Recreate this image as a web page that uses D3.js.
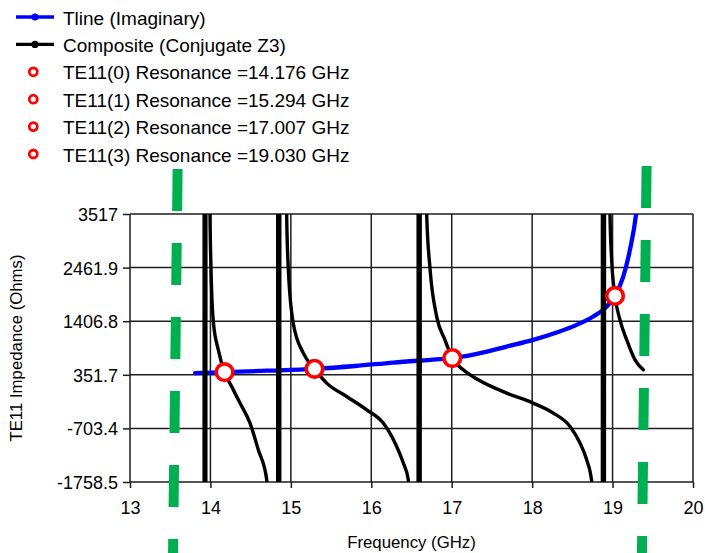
<!DOCTYPE html>
<html>
<head>
<meta charset="utf-8">
<script src="https://cdn.jsdelivr.net/npm/d3@7"></script>
<style>
  html, body { margin: 0; padding: 0; background: #fff; }
  svg { display: block; font-family: "Liberation Sans", Arial, sans-serif; }
</style>
</head>
<body>
<svg id="chart" width="705" height="553"></svg>
<script>
// ---- data ----
const xTicks = [13, 14, 15, 16, 17, 18, 19, 20];
const yTicks = [-1758.5, -703.4, 351.7, 1406.8, 2461.9, 3517];
const xTitle = "Frequency (GHz)";
const yTitle = "TE11 Impedance (Ohms)";
const seriesNames = ["Tline (Imaginary)", "Composite (Conjugate Z3)"];

// Tline imaginary impedance (GHz, Ohms)
const tlineFreq  = [13.81, 14.176, 14.70, 15.294, 15.80, 16.274, 16.854, 17.007, 17.30, 17.684,
                    18.013, 18.305, 18.554, 18.760, 18.927, 19.030, 19.133, 19.217, 19.291, 19.33];
const tlineValue = [385, 404, 432, 469, 525, 593, 660, 680, 760, 908,
                    1039, 1185, 1335, 1500, 1694, 1905, 2284, 2820, 3497, 4100];

// Composite (conjugate Z3); +/-60000 marks samples that run far off scale next to the poles
const compFreq  = [13.917, 13.926, 13.935, 13.951,
                   13.995, 14.007, 14.036, 14.098, 14.176, 14.264, 14.368, 14.492, 14.595, 14.700,
                   14.832, 14.841, 14.850, 14.874,
                   14.948, 14.968, 15.030, 15.155, 15.294, 15.446, 15.694, 15.943, 16.149, 16.295, 16.398, 16.460,
                   16.578, 16.587, 16.596, 16.620,
                   16.689, 16.730, 16.813, 16.916, 17.007, 17.144, 17.330, 17.684, 18.014, 18.263, 18.471, 18.595, 18.678, 18.740,
                   18.869, 18.878, 18.887, 18.911,
                   18.968, 18.989, 19.030, 19.092, 19.176, 19.279, 19.382];
const compValue = [-60000, 60000, -60000, 60000,
                   3497, 2449, 1399, 843, 404, 121, -205, -599, -1123, -1713,
                   -60000, 60000, -60000, 60000,
                   3497, 2449, 1368, 778, 469, 188, -75, -337, -599, -992, -1385, -1713,
                   -60000, 60000, -60000, 60000,
                   3497, 2449, 1498, 1039, 680, 450, 253, -9, -205, -402, -665, -992, -1320, -1747,
                   -60000, 60000, -60000, 60000,
                   3497, 2612, 1905, 1433, 1039, 646, 450];

// TE11 resonances (intersection of the two curves)
const resonanceFreq  = [14.176, 15.294, 17.007, 19.030];
const resonanceValue = [404, 469, 680, 1905];

// band-limit markers (frequency at top and bottom end of each dashed line)
const bandFreqTop    = [13.592, 19.423];
const bandFreqBottom = [13.535, 19.365];

// ---- layout ----
const W = 705, H = 553;
const margin = { top: 214, right: 12, bottom: 71, left: 130 };
const width = W - margin.left - margin.right;
const height = H - margin.top - margin.bottom;

const svg = d3.select("#chart");
const g = svg.append("g").attr("transform", `translate(${margin.left},${margin.top})`);

const x = d3.scaleLinear().domain([13, 20]).range([0, width]);
const y = d3.scaleLinear().domain([-1758.5, 3517]).range([height, 0]);

const gridColor = "#1e1e1e";

// grid
g.append("g").selectAll("line.h").data(yTicks).join("line")
  .attr("x1", 0).attr("x2", width)
  .attr("y1", d => y(d)).attr("y2", d => y(d))
  .attr("stroke", gridColor).attr("stroke-width", 1.5);
g.append("g").selectAll("line.v").data(xTicks).join("line")
  .attr("x1", d => x(d)).attr("x2", d => x(d))
  .attr("y1", 0).attr("y2", height)
  .attr("stroke", gridColor).attr("stroke-width", 1.5);

// axes
const yAxis = g.append("g")
  .call(d3.axisLeft(y).tickValues(yTicks).tickSize(7).tickPadding(5).tickFormat(d => String(d)));
const xAxis = g.append("g").attr("transform", `translate(0,${height})`)
  .call(d3.axisBottom(x).tickValues(xTicks).tickSize(6).tickPadding(13).tickFormat(d => String(d)));
[yAxis, xAxis].forEach(a => {
  a.select(".domain").remove();
  a.selectAll(".tick line").attr("stroke", gridColor).attr("stroke-width", 1.5);
  a.selectAll(".tick text").attr("fill", "#000").attr("font-size", 18)
    .attr("font-family", "'Liberation Sans', Arial, sans-serif");
});
yAxis.selectAll(".tick text").attr("dy", "0.36em");

// axis titles
g.append("text")
  .attr("x", width / 2).attr("y", height + 66)
  .attr("text-anchor", "middle").attr("font-size", 16.8).attr("fill", "#000")
  .text(xTitle);
svg.append("text")
  .attr("transform", `translate(22,${margin.top + height / 2}) rotate(-90)`)
  .attr("text-anchor", "middle").attr("font-size", 16.8).attr("fill", "#000")
  .text(yTitle);

// clip
svg.append("defs").append("clipPath").attr("id", "plotClip")
  .append("rect").attr("x", 0).attr("y", 0).attr("width", width).attr("height", height);

const line = d3.line().x(d => x(d[0])).y(d => y(d[1])).curve(d3.curveMonotoneX);

const plot = g.append("g").attr("clip-path", "url(#plotClip)");
plot.append("path")
  .datum(d3.zip(tlineFreq, tlineValue))
  .attr("d", line).attr("fill", "none")
  .attr("stroke", "#0000ff").attr("stroke-width", 4.3).attr("stroke-linecap", "round");
plot.append("path")
  .datum(d3.zip(compFreq, compValue))
  .attr("d", line).attr("fill", "none")
  .attr("stroke", "#000").attr("stroke-width", 3.4)
  .attr("stroke-linejoin", "round").attr("stroke-linecap", "round");

// resonance markers
g.append("g").selectAll("circle").data(d3.zip(resonanceFreq, resonanceValue)).join("circle")
  .attr("cx", d => x(d[0])).attr("cy", d => y(d[1])).attr("r", 8.3)
  .attr("fill", "#fff").attr("stroke", "#ff0000").attr("stroke-width", 3.6);

// dashed band-limit lines
const bandStartY = [169, 166];
svg.append("g").selectAll("line").data(d3.range(bandFreqTop.length)).join("line")
  .attr("x1", i => margin.left + x(bandFreqTop[i]))
  .attr("x2", i => margin.left + x(bandFreqBottom[i]))
  .attr("y1", i => bandStartY[i]).attr("y2", H)
  .attr("stroke", "#00b050").attr("stroke-width", 10)
  .attr("stroke-dasharray", "42 32");

// legend
const legend = svg.append("g");
const rowY = i => 17 + i * 27.4;
const seriesColors = ["#0000ff", "#000"];
seriesNames.forEach((name, i) => {
  const yy = rowY(i);
  legend.append("line").attr("x1", 16).attr("x2", 54).attr("y1", yy).attr("y2", yy)
    .attr("stroke", seriesColors[i]).attr("stroke-width", 3.4);
  legend.append("circle").attr("cx", 35).attr("cy", yy).attr("r", 3.6).attr("fill", seriesColors[i]);
  legend.append("text").attr("x", 63).attr("y", yy + 7.5)
    .attr("font-size", 19).attr("fill", "#000").text(name);
});
resonanceFreq.forEach((f, i) => {
  const yy = rowY(i + 2);
  legend.append("circle").attr("cx", 33.3).attr("cy", yy).attr("r", 4)
    .attr("fill", "#fff").attr("stroke", "#ff0000").attr("stroke-width", 2.8);
  legend.append("text").attr("x", 63).attr("y", yy + 7.5)
    .attr("font-size", 19).attr("fill", "#000")
    .text(`TE11(${i}) Resonance =${f.toFixed(3)} GHz`);
});
</script>
</body>
</html>
